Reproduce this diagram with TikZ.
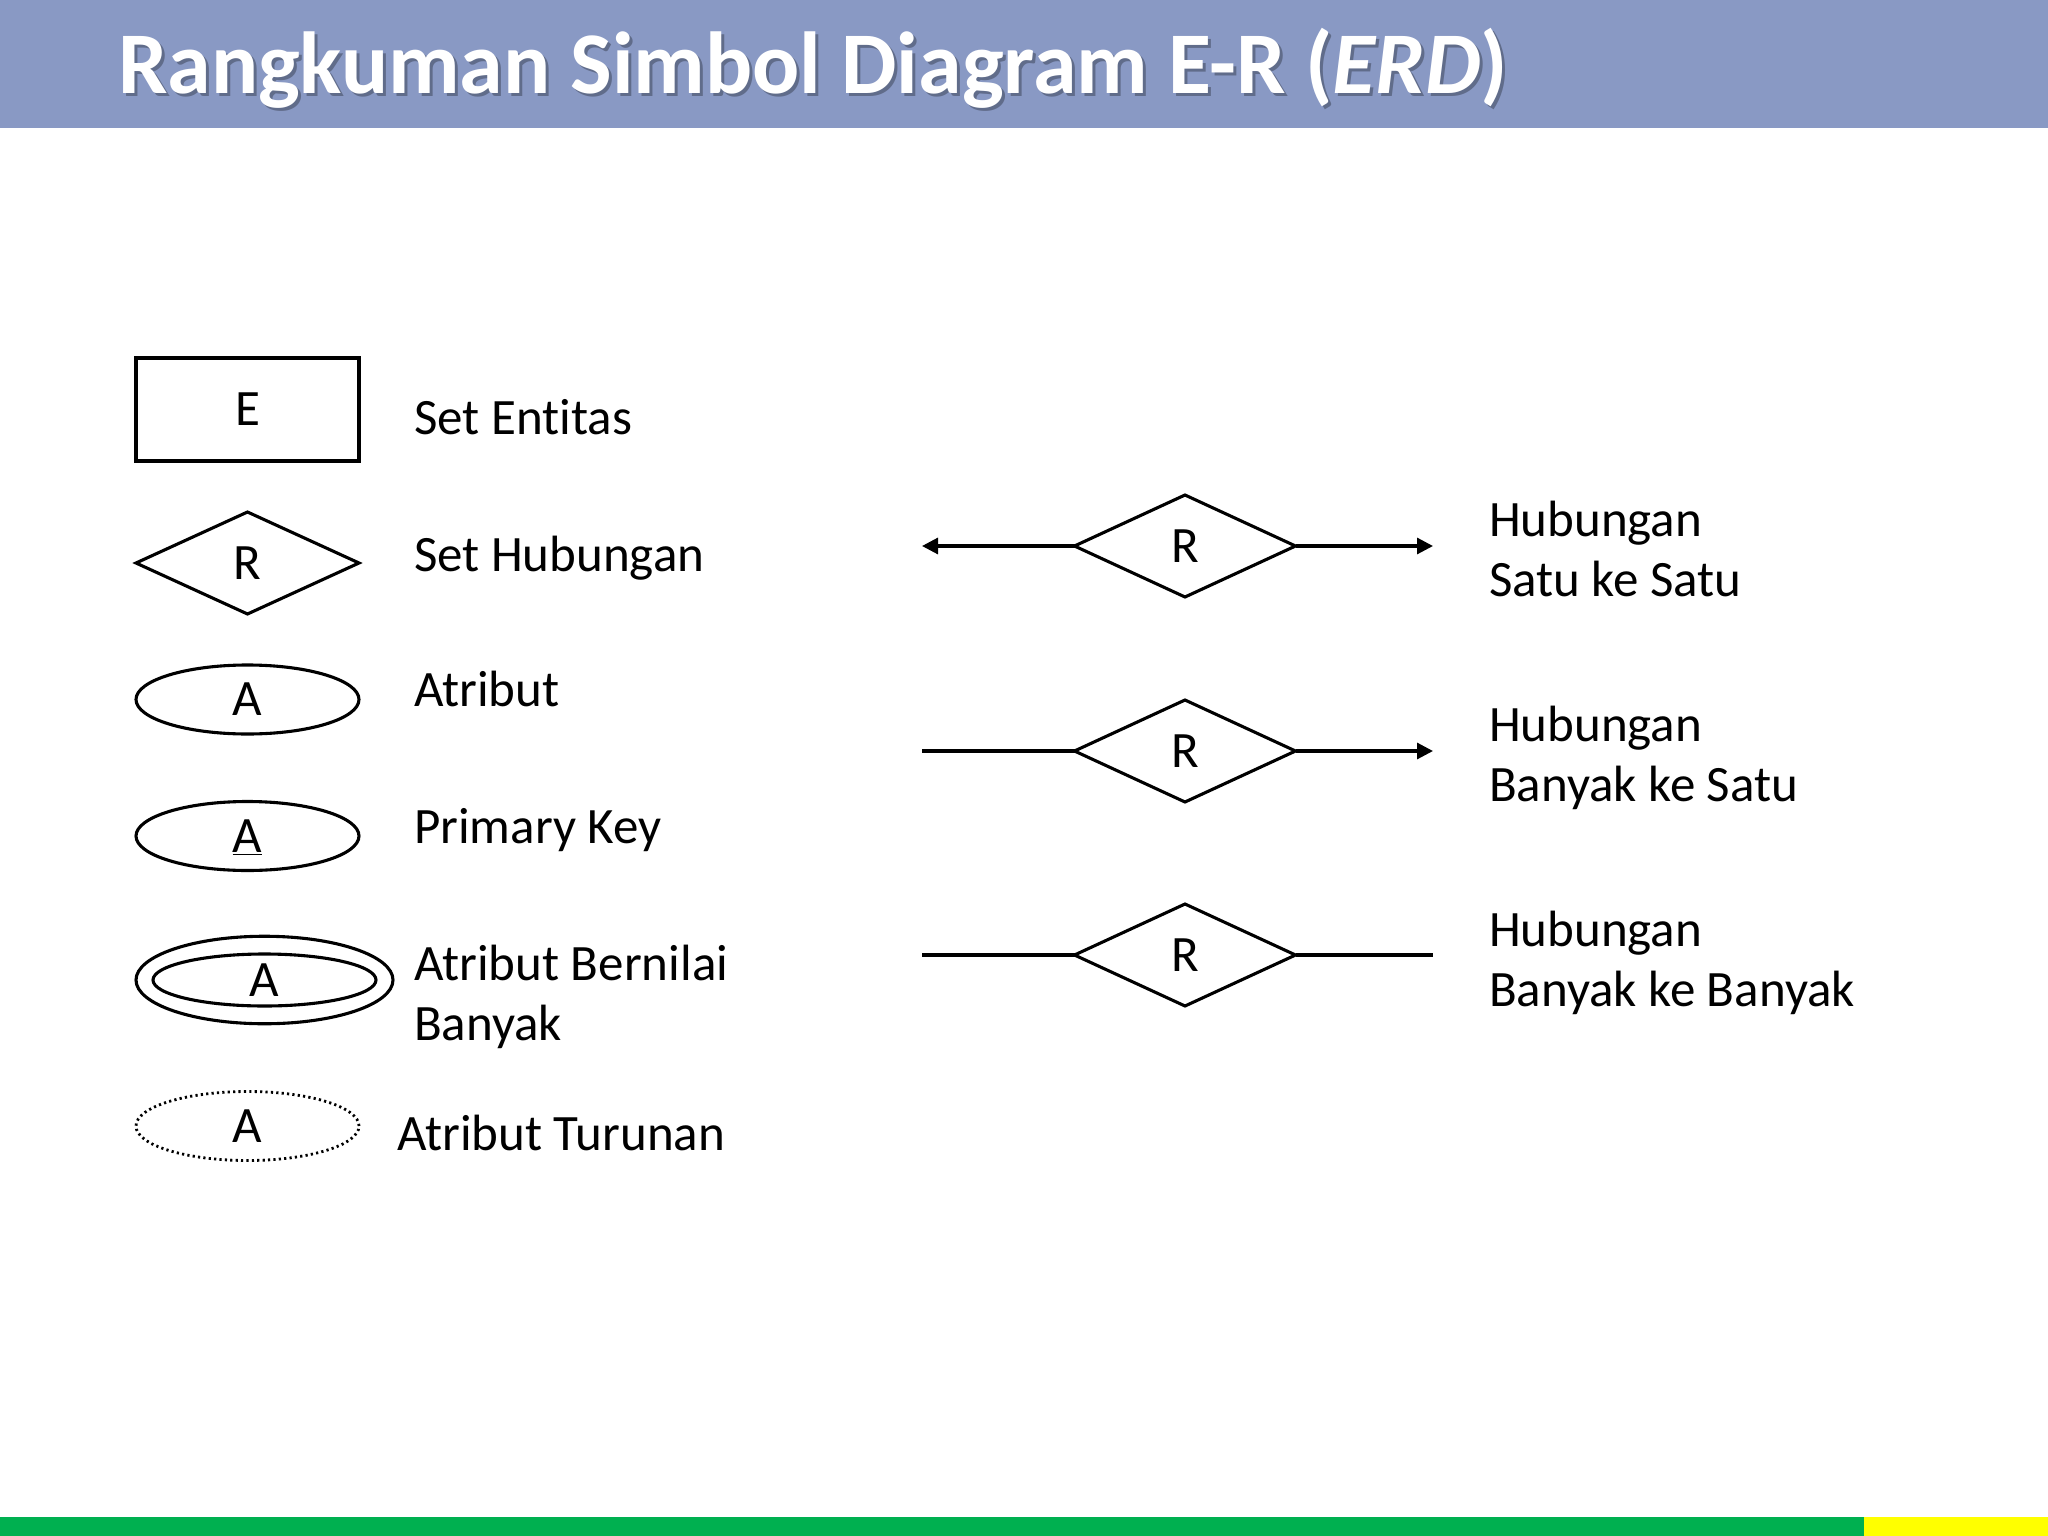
\documentclass[tikz,border=0pt]{standalone}
\usepackage{fontspec}
\setmainfont[Ligatures={NoCommon}]{Carlito}
\usetikzlibrary{shapes.geometric,arrows.meta}
\definecolor{titlebar}{RGB}{137,153,196}
\definecolor{titleshade}{RGB}{70,78,100}
\definecolor{bargreen}{RGB}{0,176,80}
\definecolor{baryellow}{RGB}{255,255,0}
\begin{document}
\begin{tikzpicture}[x=1pt,y=-1pt,
  every node/.style={inner sep=0pt, outer sep=0pt},
  shp/.style={draw=black, line width=3.1pt, font=\fontsize{51}{59}\selectfont},
  ent/.style={shp, rectangle, minimum width=223pt, minimum height=103pt},
  rel/.style={shp, diamond, aspect=2.17, minimum width=221pt, minimum height=102pt},
  attr/.style={shp, ellipse, minimum width=223pt, minimum height=69pt},
  lbl/.style={anchor=base west, font=\fontsize{51}{59.5}\selectfont, align=left},
  conn/.style={line width=3.1pt},
  tip/.style={-{Triangle[length=16pt,width=16pt]}}
]
\useasboundingbox (0,0) rectangle (2048,1536);
% title bar
\fill[titlebar] (0,0) rectangle (2048,128);
\node[anchor=base west, text=titleshade, opacity=0.6, font=\fontsize{88}{96}\selectfont\bfseries] (titleshadow) at (121,97) {Rangkuman Simbol Diagram E-R (\textit{ERD})};
\node[anchor=base west, text=white, font=\fontsize{88}{96}\selectfont\bfseries] (title) at (118,94) {Rangkuman Simbol Diagram E-R (\textit{ERD})};
% bottom bar
\fill[bargreen] (0,1517) rectangle (1864,1536);
\fill[baryellow] (1864,1517) rectangle (2048,1536);

% left column symbols
\node[ent] (e) at (247.5,409.5) {E};
\node[rel, minimum width=223pt] (r) at (247.5,563) {R};
\node[attr] (a) at (247.5,699.5) {A};
\node[attr, text depth=0pt] (pk) at (247.5,836) {\underline{A}};
\node[attr, minimum width=257pt, minimum height=87.5pt] (mvo) at (264.5,980) {};
\node[attr, minimum height=52pt] (mvi) at (264.5,980) {A};
\node[attr, line width=2.8pt, dash pattern=on 2.2pt off 3.2pt] (der) at (247.5,1126) {A};

% left labels
\node[lbl] (le) at (414,434) {Set Entitas};
\node[lbl] (lr) at (414,571) {Set Hubungan};
\node[lbl] (la) at (414,706) {Atribut};
\node[lbl] (lpk) at (414,843) {Primary Key};
\node[lbl] (lmv) at (414,1040) {Atribut Bernilai\\Banyak};
\node[lbl] (lder) at (397,1150) {Atribut Turunan};

% right column
\node[rel] (r1) at (1185,546) {R};
\node[rel] (r2) at (1185,751) {R};
\node[rel] (r3) at (1185,955) {R};
\coordinate (r1l) at (922,546);
\coordinate (r1r) at (1433,546);
\coordinate (r2l) at (922,751);
\coordinate (r2r) at (1433,751);
\coordinate (r3l) at (922,955);
\coordinate (r3r) at (1433,955);
\draw[conn,tip] (r1.west) -- (r1l);
\draw[conn,tip] (r1.east) -- (r1r);
\draw[conn] (r2.west) -- (r2l);
\draw[conn,tip] (r2.east) -- (r2r);
\draw[conn] (r3.west) -- (r3l);
\draw[conn] (r3.east) -- (r3r);

\node[lbl] (l1) at (1489,596) {Hubungan\\Satu ke Satu};
\node[lbl] (l2) at (1489,801) {Hubungan\\Banyak ke Satu};
\node[lbl] (l3) at (1489,1006) {Hubungan\\Banyak ke Banyak};
\end{tikzpicture}
\end{document}
